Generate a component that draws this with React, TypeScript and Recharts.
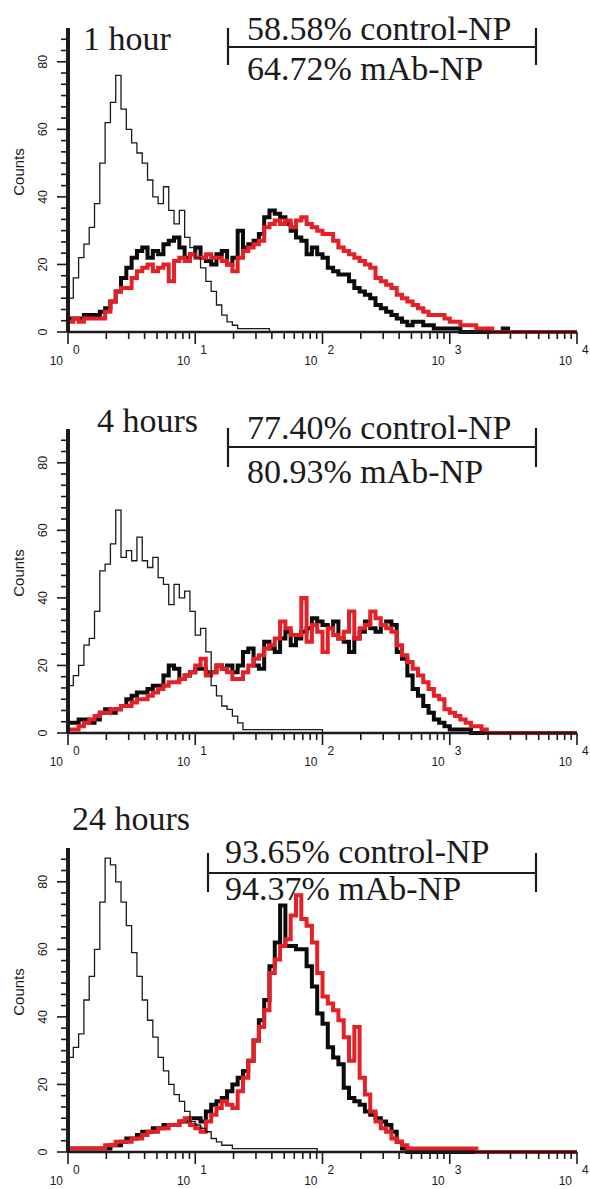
import React from 'react';
import { LineChart, Line, XAxis, YAxis } from 'recharts';

// ---------- axis definitions ----------
const BINS_PER_DECADE = 24;
const X_TICKS = [
  1, 2, 3, 4, 5, 6, 7, 8, 9,
  10, 20, 30, 40, 50, 60, 70, 80, 90,
  100, 200, 300, 400, 500, 600, 700, 800, 900,
  1000, 2000, 3000, 4000, 5000, 6000, 7000, 8000, 9000,
  10000,
];
const Y_TICKS = Array.from({ length: 27 }, (_, k) => (k * 20) / 6);
const Y_LABEL = 'Counts';

// ---------- panel titles & gate annotations ----------
const TITLES = ['1 hour', '4 hours', '24 hours'];
const CONTROL_PCT = ['58.58% control-NP', '77.40% control-NP', '93.65% control-NP'];
const MAB_PCT = ['64.72% mAb-NP', '80.93% mAb-NP', '94.37% mAb-NP'];

// ---------- histogram counts (bins of 1/24 decade, from 10^0) ----------
// first-channel pile-up spikes
const P1_SPIKE = { c: 56, m: 74 };
const P2_SPIKE = { c: 54, m: 19 };
const P3_SPIKE = { c: 60, m: 1 };

// 1 hour
const P1_UNSTAINED = [10, 16, 22, 26, 31, 38, 50, 62, 68, 76, 66, 60, 56, 53, 50, 45, 40, 38, 43, 36, 32, 36, 28, 25, 22, 19, 15, 12, 8, 5, 3, 2, 1, 1, 1, 1, 1, 1, 0];
const P1_CONTROL = [4, 4, 4, 5, 5, 5, 6, 7, 9, 12, 16, 19, 22, 24, 25, 22, 24, 23, 26, 27, 28, 25, 22, 23, 25, 22, 21, 20, 23, 24, 20, 22, 30, 25, 26, 27, 29, 34, 36, 35, 34, 32, 30, 28, 27, 23, 25, 23, 22, 19, 18, 17, 17, 15, 13, 12, 11, 10, 8, 7, 6, 5, 4, 3, 2, 3, 3, 2, 2, 1, 1, 1, 1, 1, 0, 0, 0, 0, 0, 0, 0, 0, 1, 0];
const P1_MAB = [3, 4, 3, 4, 4, 4, 4, 6, 9, 12, 13, 13, 16, 18, 19, 20, 18, 19, 20, 15, 21, 22, 21, 23, 22, 22, 23, 22, 22, 21, 20, 18, 22, 24, 25, 26, 27, 31, 32, 33, 32, 33, 31, 33, 34, 32, 31, 30, 29, 29, 27, 25, 24, 23, 22, 21, 20, 19, 16, 15, 14, 13, 11, 10, 9, 8, 7, 6, 5, 5, 5, 4, 3, 3, 2, 2, 2, 1, 1, 1, 0];

// 4 hours
const P2_UNSTAINED = [14, 17, 20, 26, 28, 36, 48, 50, 56, 66, 52, 54, 51, 58, 51, 49, 52, 46, 44, 38, 44, 40, 42, 36, 29, 31, 24, 14, 11, 8, 7, 5, 3, 1, 1, 1, 1, 1, 1, 1, 1, 1, 1, 1, 1, 1, 1, 1, 0];
const P2_CONTROL = [3, 3, 4, 4, 3, 4, 6, 7, 6, 7, 8, 10, 11, 12, 12, 13, 14, 14, 17, 20, 19, 16, 17, 18, 19, 19, 18, 18, 20, 19, 20, 18, 20, 24, 25, 20, 19, 27, 25, 24, 28, 30, 26, 28, 30, 31, 34, 33, 32, 31, 33, 28, 27, 24, 28, 30, 33, 31, 30, 32, 33, 32, 24, 22, 17, 13, 11, 8, 6, 4, 3, 2, 1, 1, 1, 1, 0];
const P2_MAB = [1, 1, 2, 3, 4, 5, 6, 6, 7, 7, 8, 8, 9, 10, 10, 11, 12, 13, 14, 15, 15, 16, 17, 18, 20, 22, 17, 18, 20, 19, 18, 16, 16, 18, 20, 22, 23, 25, 26, 28, 33, 31, 29, 29, 40, 27, 32, 30, 24, 31, 29, 28, 30, 36, 28, 31, 32, 36, 34, 32, 31, 30, 26, 23, 21, 19, 17, 15, 13, 11, 10, 7, 6, 5, 4, 3, 2, 2, 1, 0];

// 24 hours
const P3_UNSTAINED = [28, 31, 35, 45, 52, 60, 74, 87, 85, 80, 74, 67, 59, 52, 45, 39, 34, 28, 24, 20, 17, 15, 12, 9, 8, 7, 6, 4, 3, 2, 2, 1, 1, 1, 1, 1, 1, 1, 1, 1, 1, 1, 1, 1, 1, 1, 1, 0];
const P3_CONTROL = [1, 1, 1, 1, 1, 1, 1, 1, 2, 2, 3, 4, 4, 5, 6, 6, 7, 7, 8, 8, 8, 9, 9, 10, 10, 9, 12, 14, 15, 16, 18, 20, 22, 24, 27, 33, 39, 45, 55, 62, 73, 61, 61, 60, 60, 55, 49, 41, 38, 31, 28, 26, 19, 16, 15, 14, 12, 11, 10, 9, 8, 6, 3, 1, 0];
const P3_MAB = [1, 1, 1, 1, 1, 1, 1, 2, 2, 3, 3, 3, 4, 4, 5, 6, 6, 7, 7, 8, 8, 9, 10, 8, 7, 6, 9, 11, 13, 15, 14, 13, 18, 22, 27, 33, 37, 42, 53, 57, 61, 63, 70, 76, 69, 67, 62, 53, 46, 44, 42, 39, 34, 27, 37, 22, 17, 12, 9, 7, 6, 4, 3, 2, 1, 1, 1, 1, 1, 1, 1, 1, 1, 1, 1, 1, 1, 0];

type Row = { x: number; c: number; m: number; u: number };

function buildRows(spike: { c: number; m: number }, control: number[], mab: number[], unstained: number[]): Row[] {
  const rows: Row[] = [
    { x: 1, c: 0, m: 0, u: 0 },
    { x: 1, c: spike.c, m: spike.m, u: 0 },
  ];
  const n = 4 * BINS_PER_DECADE;
  for (let k = 0; k < n; k++) {
    rows.push({
      x: Math.pow(10, (k + 1) / BINS_PER_DECADE),
      c: control[k] ?? 0,
      m: mab[k] ?? 0,
      u: unstained[k] ?? 0,
    });
  }
  return rows;
}

const PANEL_DATA = [
  buildRows(P1_SPIKE, P1_CONTROL, P1_MAB, P1_UNSTAINED),
  buildRows(P2_SPIKE, P2_CONTROL, P2_MAB, P2_UNSTAINED),
  buildRows(P3_SPIKE, P3_CONTROL, P3_MAB, P3_UNSTAINED),
];

// ---------- layout ----------
const W = 590;
const CHART_H = 368;
const MARGIN_TOP = 28;
const CHART_TOPS = [0, 401, 820];
const INK = '#1c1a1b';
const RED = '#e52128';
const SANS = '"Liberation Sans", Arial, sans-serif';
const SERIF = '"Liberation Serif", "Times New Roman", serif';

const ANNOT = [
  { titleX: 83, titleY: 50, bl: 228, br: 536, bTop: 28, bBot: 65, bY: 47, tx: 247, t1: 40, t2: 80 },
  { titleX: 97, titleY: 432, bl: 228, br: 536, bTop: 428, bBot: 467, bY: 447, tx: 247, t1: 439, t2: 483 },
  { titleX: 72, titleY: 830, bl: 208, br: 536, bTop: 853, bBot: 892, bY: 873, tx: 225, t1: 863, t2: 900 },
];

const XTick = (props: any) => {
  const { x, y, payload } = props;
  const v = payload.value as number;
  const lg = Math.log10(v);
  const major = Math.abs(lg - Math.round(lg)) < 1e-6;
  return (
    <g>
      <line x1={x} x2={x} y1={y} y2={y + (major ? 12 : 7)} stroke={INK} strokeWidth={1.6} />
      {major && (
        <>
          <text x={x - 5} y={y + 33} textAnchor="end" fontSize={12} fontFamily={SANS} fill={INK}>10</text>
          <text x={x + 5} y={y + 22} textAnchor="start" fontSize={12} fontFamily={SANS} fill={INK}>{Math.round(lg)}</text>
        </>
      )}
    </g>
  );
};

const YTick = (props: any) => {
  const { x, y, payload } = props;
  const v = payload.value as number;
  const k = Math.round((v * 6) / 20);
  const major = k % 6 === 0;
  return (
    <g>
      <line x1={x - (major ? 11 : 7)} x2={x} y1={y} y2={y} stroke={INK} strokeWidth={1.6} />
      {major && (
        <text x={47} y={y} transform={`rotate(-90 47 ${y})`} textAnchor="middle" fontSize={12.5} fontFamily={SANS} fill={INK}>
          {Math.round(v)}
        </text>
      )}
    </g>
  );
};

const CountsLabel = (props: any) => {
  const vb = props.viewBox || { x: 0, y: MARGIN_TOP, width: 68, height: 304 };
  const cy = vb.y + vb.height / 2 - 8;
  return (
    <text x={24} y={cy} transform={`rotate(-90 24 ${cy})`} textAnchor="middle" fontSize={15} fontFamily={SANS} fill={INK}>
      {Y_LABEL}
    </text>
  );
};

const Panel = ({ data }: { data: Row[] }) => (
  <LineChart width={W} height={CHART_H} data={data} margin={{ top: MARGIN_TOP, right: 13, bottom: 0, left: 0 }}>
    <XAxis
      dataKey="x"
      type="number"
      scale="log"
      domain={[1, 10000]}
      ticks={X_TICKS}
      interval={0}
      allowDataOverflow
      height={36}
      tickSize={0}
      tickMargin={0}
      tickLine={false}
      axisLine={{ stroke: INK, strokeWidth: 2.6 }}
      tick={(p: any) => <XTick {...p} />}
    />
    <YAxis
      type="number"
      domain={[0, 90]}
      ticks={Y_TICKS}
      interval={0}
      width={68}
      tickSize={0}
      tickMargin={0}
      tickLine={false}
      axisLine={{ stroke: INK, strokeWidth: 4 }}
      tick={(p: any) => <YTick {...p} />}
      label={{ content: (p: any) => <CountsLabel {...p} /> }}
    />
    <Line dataKey="c" type="stepBefore" stroke="#0b0b0b" strokeWidth={4} dot={false} isAnimationActive={false} />
    <Line dataKey="m" type="stepBefore" stroke={RED} strokeWidth={4} dot={false} isAnimationActive={false} />
    <Line dataKey="u" type="stepBefore" stroke={INK} strokeWidth={1.3} dot={false} isAnimationActive={false} />
  </LineChart>
);

export default function App() {
  return (
    <div style={{ position: 'absolute', left: 0, top: 0, width: W, height: 1189, background: '#fff', overflow: 'hidden' }}>
      {PANEL_DATA.map((d, i) => (
        <div key={i} style={{ position: 'absolute', left: 0, top: CHART_TOPS[i], width: W, height: CHART_H }}>
          <Panel data={d} />
        </div>
      ))}
      <svg width={W} height={1189} style={{ position: 'absolute', left: 0, top: 0, pointerEvents: 'none' }}>
        {ANNOT.map((a, i) => (
          <g key={i} fill={INK} fontFamily={SERIF} fontSize={34}>
            <text x={a.titleX} y={a.titleY}>{TITLES[i]}</text>
            <line x1={a.bl} x2={a.bl} y1={a.bTop} y2={a.bBot} stroke={INK} strokeWidth={2.2} />
            <line x1={a.br} x2={a.br} y1={a.bTop} y2={a.bBot} stroke={INK} strokeWidth={2.2} />
            <line x1={a.bl} x2={a.br} y1={a.bY} y2={a.bY} stroke={INK} strokeWidth={2.2} />
            <text x={a.tx} y={a.t1}>{CONTROL_PCT[i]}</text>
            <text x={a.tx} y={a.t2}>{MAB_PCT[i]}</text>
          </g>
        ))}
      </svg>
    </div>
  );
}
